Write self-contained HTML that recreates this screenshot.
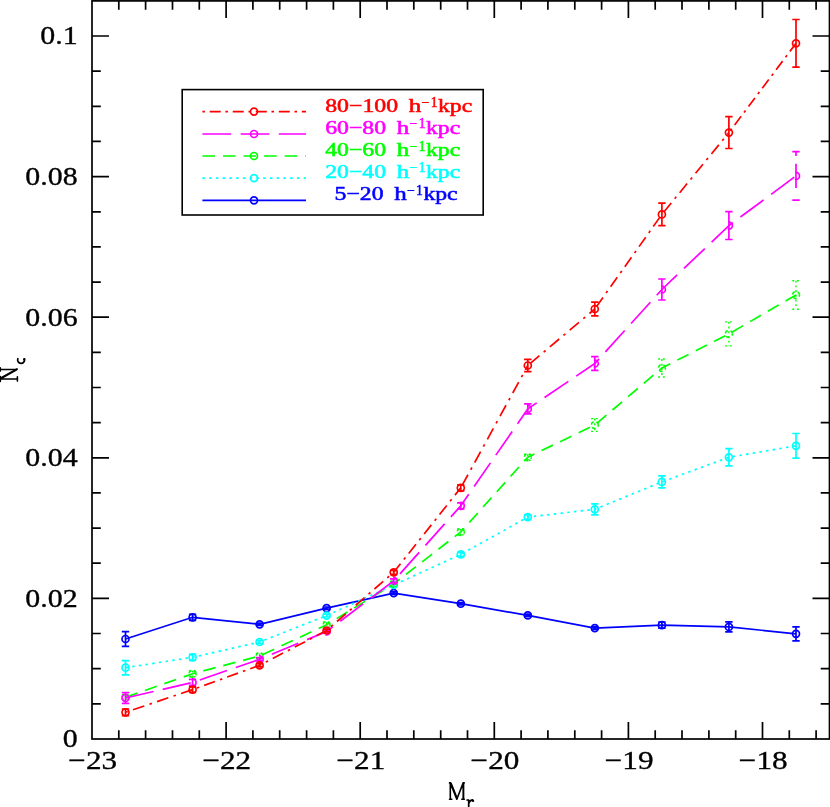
<!DOCTYPE html>
<html><head><meta charset="utf-8"><title>N_c vs M_r</title>
<style>
html,body{margin:0;padding:0;background:#fff;}
svg{display:block;will-change:transform;}
text{font-family:"Liberation Serif",serif;}
</style></head><body>
<svg width="830" height="807" viewBox="0 0 830 807">
<rect x="0" y="0" width="830" height="807" fill="#fff"/>
<g fill="none" stroke="#0000ff" stroke-width="1.7">
<polyline points="125.5,639.0 192.6,617.3 259.6,624.3 326.6,608.2 393.7,593.1 460.8,603.7 527.8,615.4 594.8,628.1 661.9,625.2 728.9,626.9 796.0,633.8"/>
<circle cx="125.5" cy="639.0" r="3.5"/><path d="M125.5 631.7V646.3M121.8 631.7H129.2M121.8 646.3H129.2"/>
<circle cx="192.6" cy="617.3" r="3.5"/><path d="M192.6 614.3V620.3M188.9 614.3H196.2M188.9 620.3H196.2"/>
<circle cx="259.6" cy="624.3" r="3.5"/><path d="M259.6 623.1V625.5M255.9 623.1H263.3M255.9 625.5H263.3"/>
<circle cx="326.6" cy="608.2" r="3.5"/><path d="M326.6 607.0V609.4M322.9 607.0H330.3M322.9 609.4H330.3"/>
<circle cx="393.7" cy="593.1" r="3.5"/><path d="M393.7 591.9V594.3M390.0 591.9H397.4M390.0 594.3H397.4"/>
<circle cx="460.8" cy="603.7" r="3.5"/><path d="M460.8 602.5V604.9M457.1 602.5H464.4M457.1 604.9H464.4"/>
<circle cx="527.8" cy="615.4" r="3.5"/><path d="M527.8 614.2V616.6M524.1 614.2H531.5M524.1 616.6H531.5"/>
<circle cx="594.8" cy="628.1" r="3.5"/><path d="M594.8 626.9V629.3M591.1 626.9H598.5M591.1 629.3H598.5"/>
<circle cx="661.9" cy="625.2" r="3.5"/><path d="M661.9 622.2V628.2M658.2 622.2H665.6M658.2 628.2H665.6"/>
<circle cx="728.9" cy="626.9" r="3.5"/><path d="M728.9 621.9V631.9M725.2 621.9H732.6M725.2 631.9H732.6"/>
<circle cx="796.0" cy="633.8" r="3.5"/><path d="M796.0 626.8V640.8M792.3 626.8H799.7M792.3 640.8H799.7"/>
</g>
<g fill="none" stroke="#00ffff" stroke-width="1.7">
<polyline points="125.5,667.7 192.6,657.3 259.6,642.0 326.6,615.6 393.7,585.0 460.8,554.4 527.8,517.1 594.8,509.3 661.9,481.9 728.9,457.3 796.0,445.8" stroke-dasharray="2.5 4.25"/>
<circle cx="125.5" cy="667.7" r="3.5"/><path d="M125.5 660.6V674.8M121.8 660.6H129.2M121.8 674.8H129.2"/>
<circle cx="192.6" cy="657.3" r="3.5"/><path d="M192.6 654.3V660.3M188.9 654.3H196.2M188.9 660.3H196.2"/>
<circle cx="259.6" cy="642.0" r="3.5"/><path d="M259.6 640.4V643.6M255.9 640.4H263.3M255.9 643.6H263.3"/>
<circle cx="326.6" cy="615.6" r="3.5"/><path d="M326.6 614.2V617.0M322.9 614.2H330.3M322.9 617.0H330.3"/>
<circle cx="393.7" cy="585.0" r="3.5"/><path d="M393.7 583.4V586.6M390.0 583.4H397.4M390.0 586.6H397.4"/>
<circle cx="460.8" cy="554.4" r="3.5"/><path d="M460.8 552.4V556.4M457.1 552.4H464.4M457.1 556.4H464.4"/>
<circle cx="527.8" cy="517.1" r="3.5"/><path d="M527.8 514.9V519.3M524.1 514.9H531.5M524.1 519.3H531.5"/>
<circle cx="594.8" cy="509.3" r="3.5"/><path d="M594.8 503.8V514.8M591.1 503.8H598.5M591.1 514.8H598.5"/>
<circle cx="661.9" cy="481.9" r="3.5"/><path d="M661.9 475.9V487.9M658.2 475.9H665.6M658.2 487.9H665.6"/>
<circle cx="728.9" cy="457.3" r="3.5"/><path d="M728.9 448.7V465.9M725.2 448.7H732.6M725.2 465.9H732.6"/>
<circle cx="796.0" cy="445.8" r="3.5"/><path d="M796.0 433.5V458.1M792.3 433.5H799.7M792.3 458.1H799.7"/>
</g>
<g fill="none" stroke="#00ff00" stroke-width="1.7">
<polyline points="125.5,697.3 192.6,673.7 259.6,656.0 326.6,624.8 393.7,583.9 460.8,531.9 527.8,457.2 594.8,425.0 661.9,368.0 728.9,333.9 796.0,295.0" stroke-dasharray="12.6 7.96" stroke-dashoffset="0.0"/>
<circle cx="125.5" cy="697.3" r="3.5" stroke-dasharray="3.6 2.9" stroke-dashoffset="1.8" stroke-width="1.6"/><path d="M125.5 695.3V699.3M121.8 695.3H129.2M121.8 699.3H129.2" stroke-dasharray="1.9 2.8" stroke-width="1.4"/>
<circle cx="192.6" cy="673.7" r="3.5" stroke-dasharray="3.6 2.9" stroke-dashoffset="1.8" stroke-width="1.6"/><path d="M192.6 670.7V676.7M188.9 670.7H196.2M188.9 676.7H196.2" stroke-dasharray="1.9 2.8" stroke-width="1.4"/>
<circle cx="259.6" cy="656.0" r="3.5" stroke-dasharray="3.6 2.9" stroke-dashoffset="1.8" stroke-width="1.6"/><path d="M259.6 653.5V658.5M255.9 653.5H263.3M255.9 658.5H263.3" stroke-dasharray="1.9 2.8" stroke-width="1.4"/>
<circle cx="326.6" cy="624.8" r="3.5" stroke-dasharray="3.6 2.9" stroke-dashoffset="1.8" stroke-width="1.6"/><path d="M326.6 622.3V627.3M322.9 622.3H330.3M322.9 627.3H330.3" stroke-dasharray="1.9 2.8" stroke-width="1.4"/>
<circle cx="393.7" cy="583.9" r="3.5" stroke-dasharray="3.6 2.9" stroke-dashoffset="1.8" stroke-width="1.6"/><path d="M393.7 581.4V586.4M390.0 581.4H397.4M390.0 586.4H397.4" stroke-dasharray="1.9 2.8" stroke-width="1.4"/>
<circle cx="460.8" cy="531.9" r="3.5" stroke-dasharray="3.6 2.9" stroke-dashoffset="1.8" stroke-width="1.6"/><path d="M460.8 528.9V534.9M457.1 528.9H464.4M457.1 534.9H464.4" stroke-dasharray="1.9 2.8" stroke-width="1.4"/>
<circle cx="527.8" cy="457.2" r="3.5" stroke-dasharray="3.6 2.9" stroke-dashoffset="1.8" stroke-width="1.6"/><path d="M527.8 454.2V460.2M524.1 454.2H531.5M524.1 460.2H531.5" stroke-dasharray="1.9 2.8" stroke-width="1.4"/>
<circle cx="594.8" cy="425.0" r="3.5" stroke-dasharray="3.6 2.9" stroke-dashoffset="1.8" stroke-width="1.6"/><path d="M594.8 418.6V431.4M591.1 418.6H598.5M591.1 431.4H598.5" stroke-dasharray="1.9 2.8" stroke-width="1.4"/>
<circle cx="661.9" cy="368.0" r="3.5" stroke-dasharray="3.6 2.9" stroke-dashoffset="1.8" stroke-width="1.6"/><path d="M661.9 359.0V377.0M658.2 359.0H665.6M658.2 377.0H665.6" stroke-dasharray="1.9 2.8" stroke-width="1.4"/>
<circle cx="728.9" cy="333.9" r="3.5" stroke-dasharray="3.6 2.9" stroke-dashoffset="1.8" stroke-width="1.6"/><path d="M728.9 321.9V345.9M725.2 321.9H732.6M725.2 345.9H732.6" stroke-dasharray="1.9 2.8" stroke-width="1.4"/>
<circle cx="796.0" cy="295.0" r="3.5" stroke-dasharray="3.6 2.9" stroke-dashoffset="1.8" stroke-width="1.6"/><path d="M796.0 280.7V309.3M792.3 280.7H799.7M792.3 309.3H799.7" stroke-dasharray="1.9 2.8" stroke-width="1.4"/>
</g>
<g fill="none" stroke="#ff00ff" stroke-width="1.7">
<polyline points="125.5,698.0 192.6,682.4 259.6,659.3 326.6,631.5 393.7,580.9 460.8,505.8 527.8,408.9 594.8,363.5 661.9,289.5 728.9,225.6 796.0,175.9" stroke-dasharray="28.8 9.42" stroke-dashoffset="0.0"/>
<circle cx="125.5" cy="698.0" r="3.5"/><path d="M125.5 692.6V703.4"/><path d="M121.8 692.6H129.2M121.8 703.4H129.2"/>
<circle cx="192.6" cy="682.4" r="3.5" stroke-dasharray="13 9" stroke-dashoffset="6.5"/><path d="M192.6 679.4V685.4"/><path d="M188.9 679.4H196.2M188.9 685.4H196.2"/>
<circle cx="259.6" cy="659.3" r="3.5" stroke-dasharray="13 9" stroke-dashoffset="6.5"/><path d="M259.6 657.7V660.9"/><path d="M255.9 657.7H263.3M255.9 660.9H263.3"/>
<circle cx="326.6" cy="631.5" r="3.5" stroke-dasharray="13 9" stroke-dashoffset="6.5"/><path d="M326.6 630.0V633.0"/><path d="M322.9 630.0H330.3M322.9 633.0H330.3"/>
<circle cx="393.7" cy="580.9" r="3.5" stroke-dasharray="13 9" stroke-dashoffset="6.5"/><path d="M393.7 578.9V582.9"/><path d="M390.0 578.9H397.4M390.0 582.9H397.4"/>
<circle cx="460.8" cy="505.8" r="3.5" stroke-dasharray="13 9" stroke-dashoffset="6.5"/><path d="M460.8 502.8V508.8"/><path d="M457.1 502.8H464.4M457.1 508.8H464.4"/>
<circle cx="527.8" cy="408.9" r="3.5" stroke-dasharray="13 9" stroke-dashoffset="6.5"/><path d="M527.8 403.9V413.9"/><path d="M524.1 403.9H531.5M524.1 413.9H531.5"/>
<circle cx="594.8" cy="363.5" r="3.5" stroke-dasharray="13 9" stroke-dashoffset="6.5"/><path d="M594.8 356.7V370.3"/><path d="M591.1 356.7H598.5M591.1 370.3H598.5"/>
<circle cx="661.9" cy="289.5" r="3.5" stroke-dasharray="13 9" stroke-dashoffset="6.5"/><path d="M661.9 279.0V300.0"/><path d="M658.2 279.0H665.6M658.2 300.0H665.6"/>
<circle cx="728.9" cy="225.6" r="3.5" stroke-dasharray="13 9" stroke-dashoffset="6.5"/><path d="M728.9 211.7V239.5"/><path d="M725.2 211.7H732.6M725.2 239.5H732.6"/>
<circle cx="796.0" cy="175.9" r="3.5" stroke-dasharray="13 9" stroke-dashoffset="6.5"/><path d="M796.0 151.7V200.1" stroke-dasharray="4.4 7.7 24.2 30"/><path d="M792.3 151.7H799.7M792.3 200.1H799.7"/>
</g>
<g fill="none" stroke="#ff0000" stroke-width="1.7">
<path d="M125.5 712.3L192.6 689.6" stroke-dasharray="2.5 5.48 11.94 5.48" stroke-dashoffset="0.1"/>
<path d="M192.6 689.6L259.6 665.3" stroke-dasharray="2.5 5.24 11.51 5.24" stroke-dashoffset="19.9"/>
<path d="M259.6 665.3L326.6 630.5" stroke-dasharray="2.5 5.32 11.66 5.32" stroke-dashoffset="17.8"/>
<path d="M326.6 630.5L393.7 572.3" stroke-dasharray="2.5 5.32 11.66 5.32" stroke-dashoffset="18.9"/>
<path d="M393.7 572.3L460.8 487.8" stroke-dasharray="2.5 5.32 11.66 5.32" stroke-dashoffset="8.5"/>
<path d="M460.8 487.8L527.8 365.5" stroke-dasharray="2.5 5.75 12.41 5.75" stroke-dashoffset="5.8"/>
<path d="M527.8 365.5L594.8 309.0" stroke-dasharray="2.5 5.61 12.17 5.61" stroke-dashoffset="5.1"/>
<path d="M594.8 309.0L661.9 214.4" stroke-dasharray="2.5 5.27 11.56 5.27" stroke-dashoffset="5.1"/>
<path d="M661.9 214.4L728.9 132.6" stroke-dasharray="2.5 5.38 11.75 5.38" stroke-dashoffset="4.8"/>
<path d="M728.9 132.6L796.0 43.3" stroke-dasharray="2.5 4.85 10.81 4.85" stroke-dashoffset="20.8"/>
<circle cx="125.5" cy="712.3" r="3.5"/><path d="M125.5 709.0V715.6M121.8 709.0H129.2M121.8 715.6H129.2"/>
<circle cx="192.6" cy="689.6" r="3.5"/><path d="M192.6 686.9V692.3M188.9 686.9H196.2M188.9 692.3H196.2"/>
<circle cx="259.6" cy="665.3" r="3.5"/><path d="M259.6 663.7V666.9M255.9 663.7H263.3M255.9 666.9H263.3"/>
<circle cx="326.6" cy="630.5" r="3.5"/><path d="M326.6 629.2V631.8M322.9 629.2H330.3M322.9 631.8H330.3"/>
<circle cx="393.7" cy="572.3" r="3.5"/><path d="M393.7 570.3V574.3M390.0 570.3H397.4M390.0 574.3H397.4"/>
<circle cx="460.8" cy="487.8" r="3.5"/><path d="M460.8 484.8V490.8M457.1 484.8H464.4M457.1 490.8H464.4"/>
<circle cx="527.8" cy="365.5" r="3.5"/><path d="M527.8 359.3V371.7M524.1 359.3H531.5M524.1 371.7H531.5"/>
<circle cx="594.8" cy="309.0" r="3.5"/><path d="M594.8 302.2V315.8M591.1 302.2H598.5M591.1 315.8H598.5"/>
<circle cx="661.9" cy="214.4" r="3.5"/><path d="M661.9 203.2V225.6M658.2 203.2H665.6M658.2 225.6H665.6"/>
<circle cx="728.9" cy="132.6" r="3.5"/><path d="M728.9 116.7V148.5M725.2 116.7H732.6M725.2 148.5H732.6"/>
<circle cx="796.0" cy="43.3" r="3.5"/><path d="M796.0 19.5V67.1M792.3 19.5H799.7M792.3 67.1H799.7"/>
</g>
<g fill="none" stroke="#000" stroke-width="1.7">
<rect x="92.0" y="0.9" width="737.5" height="738.1"/>
<path d="M118.8 739.0v-8.8M118.8 0.9v8.8M145.6 739.0v-8.8M145.6 0.9v8.8M172.5 739.0v-8.8M172.5 0.9v8.8M199.3 739.0v-8.8M199.3 0.9v8.8M226.1 739.0v-17M226.1 0.9v17M252.9 739.0v-8.8M252.9 0.9v8.8M279.7 739.0v-8.8M279.7 0.9v8.8M306.6 739.0v-8.8M306.6 0.9v8.8M333.4 739.0v-8.8M333.4 0.9v8.8M360.2 739.0v-17M360.2 0.9v17M387.0 739.0v-8.8M387.0 0.9v8.8M413.8 739.0v-8.8M413.8 0.9v8.8M440.7 739.0v-8.8M440.7 0.9v8.8M467.5 739.0v-8.8M467.5 0.9v8.8M494.3 739.0v-17M494.3 0.9v17M521.1 739.0v-8.8M521.1 0.9v8.8M547.9 739.0v-8.8M547.9 0.9v8.8M574.8 739.0v-8.8M574.8 0.9v8.8M601.6 739.0v-8.8M601.6 0.9v8.8M628.4 739.0v-17M628.4 0.9v17M655.2 739.0v-8.8M655.2 0.9v8.8M682.0 739.0v-8.8M682.0 0.9v8.8M708.9 739.0v-8.8M708.9 0.9v8.8M735.7 739.0v-8.8M735.7 0.9v8.8M762.5 739.0v-17M762.5 0.9v17M789.3 739.0v-8.8M789.3 0.9v8.8M816.1 739.0v-8.8M816.1 0.9v8.8M92.0 703.9h8.8M829.5 703.9h-8.8M92.0 668.7h8.8M829.5 668.7h-8.8M92.0 633.5h8.8M829.5 633.5h-8.8M92.0 598.4h17M829.5 598.4h-17M92.0 563.2h8.8M829.5 563.2h-8.8M92.0 528.1h8.8M829.5 528.1h-8.8M92.0 492.9h8.8M829.5 492.9h-8.8M92.0 457.8h17M829.5 457.8h-17M92.0 422.7h8.8M829.5 422.7h-8.8M92.0 387.5h8.8M829.5 387.5h-8.8M92.0 352.4h8.8M829.5 352.4h-8.8M92.0 317.2h17M829.5 317.2h-17M92.0 282.1h8.8M829.5 282.1h-8.8M92.0 246.9h8.8M829.5 246.9h-8.8M92.0 211.8h8.8M829.5 211.8h-8.8M92.0 176.6h17M829.5 176.6h-17M92.0 141.4h8.8M829.5 141.4h-8.8M92.0 106.3h8.8M829.5 106.3h-8.8M92.0 71.1h8.8M829.5 71.1h-8.8M92.0 36.0h17M829.5 36.0h-17"/>
</g>
<g fill="#000" stroke="#000" stroke-width="0.35" opacity="0.999">
<text transform="translate(92.7,769.3) scale(1.2,1)" font-size="26" text-anchor="middle">−23</text>
<text transform="translate(226.8,769.3) scale(1.2,1)" font-size="26" text-anchor="middle">−22</text>
<text transform="translate(360.9,769.3) scale(1.2,1)" font-size="26" text-anchor="middle">−21</text>
<text transform="translate(495.0,769.3) scale(1.2,1)" font-size="26" text-anchor="middle">−20</text>
<text transform="translate(629.1,769.3) scale(1.2,1)" font-size="26" text-anchor="middle">−19</text>
<text transform="translate(763.2,769.3) scale(1.2,1)" font-size="26" text-anchor="middle">−18</text>
<text transform="translate(77.6,747.4) scale(1.15,1)" font-size="26" text-anchor="end">0</text>
<text transform="translate(77.6,606.8) scale(1.15,1)" font-size="26" text-anchor="end">0.02</text>
<text transform="translate(77.6,466.2) scale(1.15,1)" font-size="26" text-anchor="end">0.04</text>
<text transform="translate(77.6,325.6) scale(1.15,1)" font-size="26" text-anchor="end">0.06</text>
<text transform="translate(77.6,185.0) scale(1.15,1)" font-size="26" text-anchor="end">0.08</text>
<text transform="translate(77.6,44.4) scale(1.15,1)" font-size="26" text-anchor="end">0.1</text>
</g>
<g fill="none" stroke="#000" stroke-linecap="round" stroke-linejoin="round">
<path d="M450.3 782.9V799.2M463.2 782.9V799.2M450.3 782.9L456.8 799.2L463.2 782.9M449.5 782.9H450.3M463.2 782.9H464.2M449.5 799.2H451.8M461.8 799.2H464.3" stroke-width="1.6"/>
<path d="M451.2 783.2L457.4 798.6M463.7 783V799.2" stroke-width="1.3"/>
<path d="M468.7 800V808M467.1 800H468.7M468.7 803.6Q469.6 800.2 472.4 799.9" stroke-width="1.7"/>
<path d="M472.6 800.4L473.1 800.9" stroke-width="2.2"/>
<path d="M-1 379H17.4M17.4 376.9V381.1M-1 369.5H17M0.2 379L17 369.5M0.3 376.6V381.4M0.3 367.9V371.1" stroke-width="1.6"/>
<path d="M0.2 378.2L17 368.8" stroke-width="1.5"/>
<path d="M24.4 359.1A3.45 3.4 0 1 1 17.9 358.7" stroke-width="1.7"/>
<path d="M24.2 359.5L24.3 359.1" stroke-width="2.3"/>
</g>
<rect x="182.2" y="89.6" width="301" height="125.4" fill="#fff" stroke="#000" stroke-width="1.6"/>
<g fill="none" stroke="#ff0000" stroke-width="1.7">
<path d="M202.4 111.6H306" stroke-dasharray="2.5 4.8 11 4.73"/><circle cx="254" cy="111.6" r="3.5"/></g>
<g fill="#ff0000" stroke="#ff0000" stroke-width="0.55" font-size="19.2" opacity="0.999">
<text x="325.2" y="112.1" textLength="72.9" lengthAdjust="spacingAndGlyphs">80−100</text><text transform="translate(408.8,112.1) scale(1.3,1)">h</text><text x="421.6" y="106.5" font-size="13.6" stroke-width="0.5">−</text><text x="430.7" y="106.5" font-size="13.6" stroke-width="0.5">1</text><text transform="translate(438.0,112.1) scale(1.235,1)">kpc</text>
</g>
<g fill="none" stroke="#ff00ff" stroke-width="1.7">
<path d="M202.4 134.0H306" stroke-dasharray="28.8 9.42"/><circle cx="254" cy="134.0" r="3.5"/></g>
<g fill="#ff00ff" stroke="#ff00ff" stroke-width="0.55" font-size="19.2" opacity="0.999">
<text x="325.2" y="134.0" textLength="60.9" lengthAdjust="spacingAndGlyphs">60−80</text><text transform="translate(396.8,134.0) scale(1.3,1)">h</text><text x="409.6" y="128.4" font-size="13.6" stroke-width="0.5">−</text><text x="418.7" y="128.4" font-size="13.6" stroke-width="0.5">1</text><text transform="translate(426.0,134.0) scale(1.235,1)">kpc</text>
</g>
<g fill="none" stroke="#00ff00" stroke-width="1.7">
<path d="M202.4 156.0H306" stroke-dasharray="12.6 7.96"/><circle cx="254" cy="156.0" r="3.5"/></g>
<g fill="#00ff00" stroke="#00ff00" stroke-width="0.55" font-size="19.2" opacity="0.999">
<text x="325.2" y="156.3" textLength="60.9" lengthAdjust="spacingAndGlyphs">40−60</text><text transform="translate(396.8,156.3) scale(1.3,1)">h</text><text x="409.6" y="150.7" font-size="13.6" stroke-width="0.5">−</text><text x="418.7" y="150.7" font-size="13.6" stroke-width="0.5">1</text><text transform="translate(426.0,156.3) scale(1.235,1)">kpc</text>
</g>
<g fill="none" stroke="#00ffff" stroke-width="1.7">
<path d="M202.4 178.1H306" stroke-dasharray="2.5 4.25"/><circle cx="254" cy="178.1" r="3.5"/></g>
<g fill="#00ffff" stroke="#00ffff" stroke-width="0.55" font-size="19.2" opacity="0.999">
<text x="325.2" y="177.8" textLength="60.9" lengthAdjust="spacingAndGlyphs">20−40</text><text transform="translate(396.8,177.8) scale(1.3,1)">h</text><text x="409.6" y="172.2" font-size="13.6" stroke-width="0.5">−</text><text x="418.7" y="172.2" font-size="13.6" stroke-width="0.5">1</text><text transform="translate(426.0,177.8) scale(1.235,1)">kpc</text>
</g>
<g fill="none" stroke="#0000ff" stroke-width="1.7">
<path d="M202.4 200.3H306"/><circle cx="254" cy="200.3" r="3.5"/></g>
<g fill="#0000ff" stroke="#0000ff" stroke-width="0.55" font-size="19.2" opacity="0.999">
<text x="334.6" y="200.4" textLength="48.9" lengthAdjust="spacingAndGlyphs">5−20</text><text transform="translate(394.2,200.4) scale(1.3,1)">h</text><text x="407.0" y="194.8" font-size="13.6" stroke-width="0.5">−</text><text x="416.1" y="194.8" font-size="13.6" stroke-width="0.5">1</text><text transform="translate(423.4,200.4) scale(1.235,1)">kpc</text>
</g>
</svg>
</body></html>
